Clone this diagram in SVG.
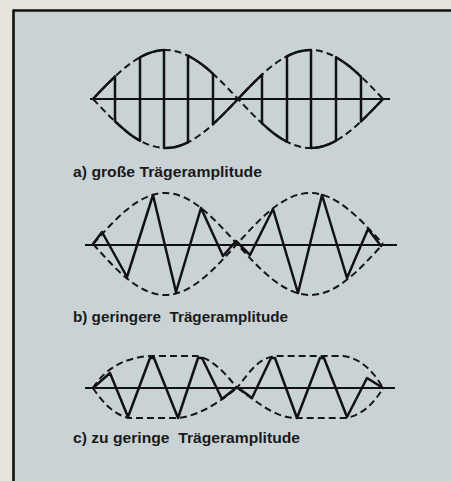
<svg xmlns="http://www.w3.org/2000/svg" width="451" height="481" viewBox="0 0 451 481">
<style>
.env{fill:none;stroke:#161616;stroke-width:2;stroke-dasharray:7 4}
.sol{fill:none;stroke:#111;stroke-width:2.5;stroke-linejoin:round;stroke-linecap:round}
.axis{stroke:#111;stroke-width:2}
.lbl{font-family:"Liberation Sans","DejaVu Sans",sans-serif;font-size:14px;font-weight:bold;fill:#1a1a1a}
</style>
<defs>
<clipPath id="topClip">
<rect x="92" y="40" width="23" height="60"/><rect x="140" y="40" width="24" height="60"/><rect x="188" y="40" width="25" height="60"/>
<rect x="238" y="40" width="24" height="60"/><rect x="287" y="40" width="24" height="60"/><rect x="336" y="40" width="25" height="60"/>
</clipPath>
<clipPath id="botClip">
<rect x="115" y="98" width="25" height="60"/><rect x="164" y="98" width="24" height="60"/><rect x="213" y="98" width="25" height="60"/>
<rect x="262" y="98" width="25" height="60"/><rect x="311" y="98" width="25" height="60"/><rect x="361" y="98" width="24" height="60"/>
</clipPath>
</defs>
<rect x="0" y="0" width="451" height="481" fill="#e7e3dd"/>
<rect x="13" y="10" width="438" height="471" fill="#c9d3d6"/>
<line x1="13" y1="10.5" x2="451" y2="10.5" stroke="#111" stroke-width="2.4"/>
<line x1="13.5" y1="9.5" x2="13.5" y2="481" stroke="#111" stroke-width="2.6"/>

<g id="diagram-a">
<line class="axis" x1="90" y1="99" x2="390" y2="99"/>
<path class="env" d="M93,99 C116.6,73.9 139.3,50 165.5,50 C191.7,50 214.4,73.9 238,99 C261.6,73.9 284.3,50 310.5,50 C336.7,50 359.4,73.9 383,99"/>
<path class="env" d="M93,99 C116.6,124.1 139.3,148 165.5,148 C191.7,148 214.4,124.1 238,99 C261.6,124.1 284.3,148 310.5,148 C336.7,148 359.4,124.1 383,99"/>
<path class="sol" clip-path="url(#topClip)" d="M93,99 C116.6,73.9 139.3,50 165.5,50 C191.7,50 214.4,73.9 238,99 C261.6,73.9 284.3,50 310.5,50 C336.7,50 359.4,73.9 383,99"/>
<path class="sol" clip-path="url(#botClip)" d="M93,99 C116.6,124.1 139.3,148 165.5,148 C191.7,148 214.4,124.1 238,99 C261.6,124.1 284.3,148 310.5,148 C336.7,148 359.4,124.1 383,99"/>
<path class="sol" d="M115,76.5V121.5 M140,57.3V140.7 M164,50V148 M188,55.7V142.3 M213,73.7V124.3 M262,74.7V123.3 M287,56.2V141.8 M311,50V148 M336,57.3V140.7 M361,76.5V121.5"/>
<text class="lbl" x="73" y="177" textLength="189" lengthAdjust="spacingAndGlyphs">a) große Trägeramplitude</text>
</g>

<g id="diagram-b">
<line class="axis" x1="85" y1="245" x2="397" y2="245"/>
<path class="env" d="M93,244 C116.5,217.9 138.9,193 165,193 C191.1,193 213.5,217.9 237,244 C260.8,217.9 283.6,193 310,193 C336.4,193 359.2,217.9 383,244"/>
<path class="env" d="M93,244 C116.5,270.1 138.9,295 165,295 C191.1,295 213.5,270.1 237,244 C260.8,270.1 283.6,295 310,295 C336.4,295 359.2,270.1 383,244"/>
<polyline class="sol" points="93,244 102,232 127,277 153,195 176,292 201,208 223,256 236,241 250,255 273,209 298,293 322,195 347,278 368,229 381,246"/>
<text class="lbl" x="73" y="322" textLength="215" lengthAdjust="spacingAndGlyphs">b) geringere&#160; Trägeramplitude</text>
</g>

<g id="diagram-c">
<line class="axis" x1="85" y1="388" x2="395" y2="388"/>
<path class="env" d="M93,388 C103,372 120,358 150,356 L196,356 C212,358 226,374 237,388 C248,374 258,358 275,356 L343,356 C362,358 375,374 383,388"/>
<path class="env" d="M93,388 C102,402 115,416 130,418 L178,418 C200,416 222,400 237,388 C255,400 272,416 293,418 L345,418 C362,416 375,402 383,388"/>
<polyline class="sol" points="93,388 110,373 128,417 150,358 154,358 178,418 198,358 202,358 222,399 237,387 252,398 271,358 275,358 297,418 320,358 324,358 347,417 367,378 383,388"/>
<text class="lbl" x="73" y="443" textLength="227" lengthAdjust="spacingAndGlyphs">c) zu geringe&#160; Trägeramplitude</text>
</g>
</svg>
